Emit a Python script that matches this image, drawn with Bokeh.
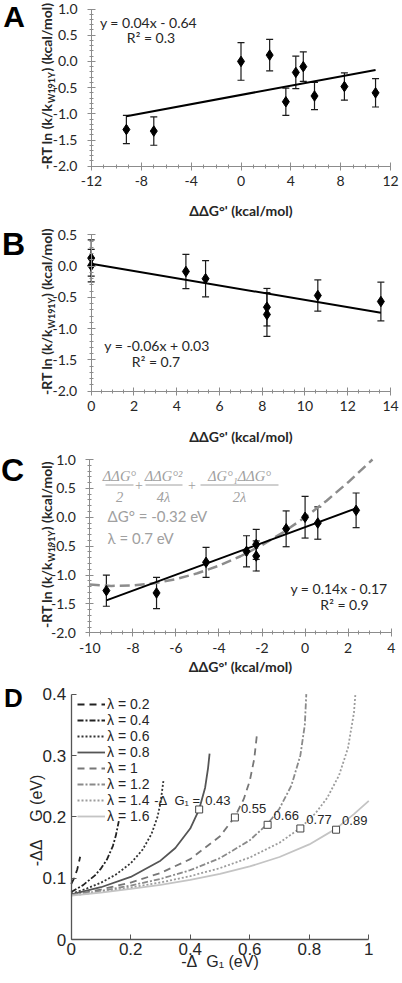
import math
import numpy as np
from bokeh.plotting import figure
from bokeh.layouts import column
from bokeh.models import (ColumnDataSource, Range1d, Label, Whisker, TeeHead,
                          FixedTicker, PrintfTickFormatter, Legend, LegendItem)
from bokeh.core.properties import value
from bokeh.embed import file_html
from bokeh.resources import INLINE

# ---------------- data ----------------
# Panel A
a_x = [-9.2, -7.0, 0.0, 2.3, 3.6, 4.4, 5.0, 5.9, 8.3, 10.8]
a_y = [-1.30, -1.33, 0.0, 0.12, -0.77, -0.21, -0.10, -0.66, -0.48, -0.60]
a_err = [0.27, 0.27, 0.36, 0.30, 0.26, 0.31, 0.28, 0.26, 0.26, 0.27]
a_eq = ["y = 0.04x - 0.64", "R² = 0.3"]
A_XTICKS = [-12, -8, -4, 0, 4, 8, 12]
A_YTICKS = [-2.0, -1.5, -1.0, -0.5, 0.0, 0.5, 1.0]

# Panel B
b_x = [0.0, 0.0, 4.43, 5.35, 8.22, 8.22, 10.6, 13.55]
b_y = [0.13, 0.01, -0.085, -0.20, -0.656, -0.773, -0.469, -0.565]
b_err = [0.29, 0.26, 0.275, 0.29, 0.30, 0.35, 0.25, 0.31]
b_eq = ["y = -0.06x + 0.03", "R² = 0.7"]
B_XTICKS = [0, 2, 4, 6, 8, 10, 12, 14]
B_YTICKS = [-2.0, -1.5, -1.0, -0.5, 0.0, 0.5]

# Panel C
c_x = [-9.23, -6.90, 0.0, 2.37, -4.60, -0.88, 0.59, -2.27, -2.27, -2.72]
c_y = [-1.27, -1.31, 0.0, 0.12, -0.78, -0.20, -0.10, -0.67, -0.47, -0.59]
c_err = [0.27, 0.27, 0.36, 0.30, 0.26, 0.31, 0.28, 0.26, 0.26, 0.27]
c_eq = ["y = 0.14x - 0.17", "R² = 0.9"]
c_model_x = [-10, -9, -8, -7, -6, -5, -4, -3, -2, -1, 0, 1, 2, 3, 3.13]
c_model_y = [-1.166, -1.188, -1.180, -1.141, -1.071, -0.970, -0.838, -0.675,
             -0.481, -0.256, 0.0, 0.287, 0.605, 0.954, 1.0]
c_params = ["ΔG° = -0.32 eV", "λ = 0.7 eV"]
c_num = ["ΔΔG°", "ΔΔG°²", "ΔG°₁ΔΔG°"]
c_den = ["2", "4λ", "2λ"]
C_XTICKS = [-10, -8, -6, -4, -2, 0, 2, 4]
C_YTICKS = [-2.0, -1.5, -1.0, -0.5, 0.0, 0.5, 1.0]

# Panel D
d_labels = ["λ = 0.2", "λ = 0.4", "λ = 0.6", "λ = 0.8", "λ = 1", "λ = 1.2", "λ = 1.4", "λ = 1.6"]
d_x_02 = [0.0, 0.01, 0.02, 0.025, 0.03]
d_y_02 = [0.0905, 0.100, 0.1137, 0.1238, 0.135]
d_x_04 = [0.0, 0.04, 0.08, 0.10, 0.12, 0.14, 0.15, 0.16]
d_y_04 = [0.0775, 0.0887, 0.1046, 0.1156, 0.1303, 0.1523, 0.1694, 0.193]
d_x_06 = [0.0, 0.05, 0.10, 0.15, 0.20, 0.24, 0.27, 0.29, 0.30, 0.31]
d_y_06 = [0.0746, 0.0826, 0.0926, 0.1058, 0.1243, 0.1465, 0.1722, 0.200, 0.2225, 0.259]
d_x_08 = [0.0, 0.1, 0.2, 0.3, 0.35, 0.40, 0.43, 0.45, 0.46, 0.465]
d_y_08 = [0.0734, 0.0852, 0.1020, 0.1285, 0.1492, 0.1809, 0.2122, 0.2475, 0.280, 0.303]
d_x_10 = [0.0, 0.1, 0.2, 0.3, 0.4, 0.5, 0.55, 0.58, 0.60, 0.615, 0.625]
d_y_10 = [0.0726, 0.0815, 0.0929, 0.1084, 0.1310, 0.1683, 0.200, 0.2292, 0.2586, 0.2943, 0.338]
d_x_12 = [0.0, 0.1, 0.2, 0.3, 0.4, 0.5, 0.6, 0.66, 0.70, 0.74, 0.77, 0.785, 0.79]
d_y_12 = [0.0722, 0.0792, 0.0879, 0.0988, 0.1130, 0.1326, 0.1618, 0.1884, 0.2136, 0.2512, 0.300, 0.350, 0.400]
d_x_14 = [0.0, 0.1, 0.2, 0.3, 0.4, 0.5, 0.6, 0.7, 0.77, 0.82, 0.86, 0.90, 0.93, 0.95, 0.955]
d_y_14 = [0.0718, 0.0777, 0.0847, 0.0930, 0.1033, 0.1164, 0.1337, 0.1578, 0.1818, 0.2053,
          0.2308, 0.2676, 0.3122, 0.3694, 0.400]
d_x_16 = [0.0, 0.1, 0.2, 0.3, 0.4, 0.5, 0.6, 0.7, 0.8, 0.89, 0.95, 1.0]
d_y_16 = [0.0716, 0.0766, 0.0824, 0.0892, 0.0973, 0.1070, 0.1191, 0.1345, 0.1550, 0.1808, 0.2045, 0.226]
d_mark_x = [0.43, 0.55, 0.66, 0.77, 0.89]
d_mark_y = [0.212, 0.199, 0.187, 0.181, 0.179]
d_mark_prefix = "-Δ\u00a0\u00a0G₁ ="
d_xlabel = "-Δ\u00a0\u00a0G₁ (eV)"
d_ylabel = "-ΔΔ\u00a0\u00a0\u00a0\u00a0G (eV)"
D_XTICKS = [0, 0.2, 0.4, 0.6, 0.8, 1]
D_XLABELS = ["0", "0.2", "0.4", "0.6", "0.8", "1"]
D_YTICKS = [0, 0.1, 0.2, 0.3, 0.4]
D_YLABELS = ["0", "0.1", "0.2", "0.3", "0.4"]

# ---------------- styling / layout constants ----------------
AX_GRAY = "#8c8c8c"
TXT = "#262626"
FORM_GRAY = "#a0a0a0"
W = 400

# page-pixel calibration of each panel's axes: (xval0, xpx0, xval1, xpx1, yval0, ypx0, yval1, ypx1)
CAL_A = (-12, 91.0, 12, 390.0, -2.0, 165.7, 1.0, 8.5)
CAL_B = (0, 90.7, 14, 390.0, -2.0, 390.7, 0.0, 265.7)
CAL_C = (-10, 89.3, 4, 390.7, -2.0, 632.3, 1.0, 459.0)
CAL_D = (0, 70.7, 1, 368.3, 0.0, 939.0, 0.3, 755.0)
# vertical page extents of the four canvases
PAGE_A = (0, 224)
PAGE_B = (224, 447)
PAGE_C = (447, 681)
PAGE_D = (681, 981)


def ref2data(cal, px, py):
    xv0, xp0, xv1, xp1, yv0, yp0, yv1, yp1 = cal
    x = xv0 + (px - xp0) * (xv1 - xv0) / (xp1 - xp0)
    y = yv0 + (py - yp0) * (yv1 - yv0) / (yp1 - yp0)
    return x, y


def make_fig(cal, page):
    top, bottom = page
    x_start, y_top = ref2data(cal, 0, top)
    x_end, y_bot = ref2data(cal, W, bottom)
    p = figure(width=W, height=bottom - top,
               x_range=Range1d(x_start, x_end), y_range=Range1d(y_bot, y_top),
               output_backend="svg", toolbar_location=None,
               min_border_left=0, min_border_right=0, min_border_top=0, min_border_bottom=0)
    p.outline_line_color = None
    p.xgrid.visible = False
    p.ygrid.visible = False
    p.background_fill_color = "white"
    p.border_fill_color = "white"
    return p


def place_axes(p, xticks, yticks):
    p.xaxis.fixed_location = yticks[0]
    p.xaxis.bounds = (xticks[0], xticks[-1])
    p.yaxis.fixed_location = xticks[0]
    p.yaxis.bounds = (yticks[0], yticks[-1])


def style_excel(p, xticks, xminor_step, yticks, xlabel_standoff):
    place_axes(p, xticks, yticks)
    xminor = [float(v) for v in np.arange(xticks[0], xticks[-1] + 1e-9, xminor_step)]
    yminor = [float(v) for v in np.round(np.arange(yticks[0], yticks[-1] + 1e-9, 0.1), 2)]
    p.xaxis.ticker = FixedTicker(ticks=xticks, minor_ticks=xminor)
    p.yaxis.ticker = FixedTicker(ticks=yticks, minor_ticks=yminor)
    p.xaxis.formatter = PrintfTickFormatter(format="%d")
    p.yaxis.formatter = PrintfTickFormatter(format="%.1f")
    for ax in (p.xaxis[0], p.yaxis[0]):
        ax.axis_line_color = AX_GRAY
        ax.axis_line_width = 1
        ax.major_tick_line_color = AX_GRAY
        ax.minor_tick_line_color = AX_GRAY
        ax.major_tick_in = 4
        ax.major_tick_out = 4
        ax.minor_tick_in = 2
        ax.minor_tick_out = 2
        ax.major_label_text_font = "Lato"
        ax.major_label_text_font_size = "14px"
        ax.major_label_text_color = TXT
    p.yaxis.major_label_standoff = 10
    p.xaxis.major_label_standoff = 6
    p.xaxis.axis_label = "ΔΔG°' (kcal/mol)"
    p.xaxis.axis_label_text_font = "Lato"
    p.xaxis.axis_label_text_font_size = "14px"
    p.xaxis.axis_label_text_font_style = "bold"
    p.xaxis.axis_label_text_color = TXT
    p.xaxis.axis_label_standoff = xlabel_standoff


def y_label(p, cal, yticks):
    xv0, xp0, xv1, xp1, yv0, yp0, yv1, yp1 = cal
    ppu = (yp0 - yp1) / (yv1 - yv0)
    yc = (yticks[0] + yticks[-1]) / 2.0
    main_x, _ = ref2data(cal, 45.5, 0)
    sub_x, _ = ref2data(cal, 50.5, 0)
    common = dict(text_font="Lato", text_font_style="bold", text_color=TXT,
                  angle=math.pi / 2, text_baseline="middle")
    p.add_layout(Label(x=main_x, y=yc - 16 / ppu, text="-RT ln (k/k", text_align="right",
                       text_font_size="14px", **common))
    p.add_layout(Label(x=sub_x, y=yc, text="W191Y", text_align="center",
                       text_font_size="9px", **common))
    p.add_layout(Label(x=main_x, y=yc + 16 / ppu, text=") (kcal/mol)", text_align="left",
                       text_font_size="14px", **common))


def letter(p, cal, px, py, txt, size):
    x, y = ref2data(cal, px, py)
    p.add_layout(Label(x=x, y=y, text=txt, text_font="Liberation Sans", text_font_style="bold",
                       text_font_size=size, text_color="black", text_align="center",
                       text_baseline="middle"))


def plain_label(p, cal, px, py, txt, align="center", font="Lato", size="14px",
                color=TXT, style="normal", angle=0.0):
    x, y = ref2data(cal, px, py)
    p.add_layout(Label(x=x, y=y, text=txt, text_font=font, text_font_size=size,
                       text_color=color, text_align=align, text_baseline="middle",
                       text_font_style=style, angle=angle))


def scatter_panel(p, xs, ys, errs):
    src = ColumnDataSource(dict(x=xs, y=ys,
                                up=[y + e for y, e in zip(ys, errs)],
                                lo=[y - e for y, e in zip(ys, errs)]))
    wh = Whisker(source=src, base="x", upper="up", lower="lo", dimension="height",
                 line_color="#1a1a1a", line_width=1.2,
                 upper_head=TeeHead(size=7, line_color="#1a1a1a", line_width=1.2),
                 lower_head=TeeHead(size=7, line_color="#1a1a1a", line_width=1.2))
    p.add_layout(wh)
    m, b = np.polyfit(xs, ys, 1)
    x0, x1 = min(xs), max(xs)
    p.line([x0, x1], [m * x0 + b, m * x1 + b], line_color="black", line_width=2)
    p.scatter("x", "y", source=src, marker="diamond", size=10.5,
              fill_color="black", line_color="black")


# ---------------- Panel A ----------------
pA = make_fig(CAL_A, PAGE_A)
style_excel(pA, A_XTICKS, 1, A_YTICKS, 12)
scatter_panel(pA, a_x, a_y, a_err)
y_label(pA, CAL_A, A_YTICKS)
letter(pA, CAL_A, 13.5, 15.5, "A", "30px")
plain_label(pA, CAL_A, 148, 22, a_eq[0])
plain_label(pA, CAL_A, 150.5, 37.3, a_eq[1])

# ---------------- Panel B ----------------
pB = make_fig(CAL_B, PAGE_B)
style_excel(pB, B_XTICKS, 0.5, B_YTICKS, 13)
scatter_panel(pB, b_x, b_y, b_err)
y_label(pB, CAL_B, B_YTICKS)
letter(pB, CAL_B, 13, 243.5, "B", "32px")
plain_label(pB, CAL_B, 156.5, 345, b_eq[0])
plain_label(pB, CAL_B, 155.5, 361, b_eq[1])

# ---------------- Panel C ----------------
pC = make_fig(CAL_C, PAGE_C)
style_excel(pC, C_XTICKS, 0.5, C_YTICKS, 2)
pC.line(c_model_x, c_model_y, line_color="#8c8c8c", line_width=2.5, line_dash="10 5")
scatter_panel(pC, c_x, c_y, c_err)
y_label(pC, CAL_C, C_YTICKS)
letter(pC, CAL_C, 12, 469, "C", "32px")
plain_label(pC, CAL_C, 338.5, 587.7, c_eq[0])
plain_label(pC, CAL_C, 344, 604, c_eq[1])
# formula (gray)
num_cx = [119, 163, 239]
bar_l = [105, 145, 200]
bar_r = [133, 182, 278]
for i in range(3):
    plain_label(pC, CAL_C, num_cx[i], 475, c_num[i], font="Liberation Serif",
                size="14.5px", color=FORM_GRAY, style="italic")
    plain_label(pC, CAL_C, num_cx[i], 496, c_den[i], font="Liberation Serif",
                size="14.5px", color=FORM_GRAY, style="italic")
bx0 = [ref2data(CAL_C, v, 484.5)[0] for v in bar_l]
bx1 = [ref2data(CAL_C, v, 484.5)[0] for v in bar_r]
by = [ref2data(CAL_C, 0, 484.5)[1]] * 3
pC.segment(bx0, by, bx1, by, line_color=FORM_GRAY, line_width=1)
plain_label(pC, CAL_C, 138.5, 484, "+", font="Liberation Serif", size="14px", color=FORM_GRAY)
plain_label(pC, CAL_C, 191.5, 484, "+", font="Liberation Serif", size="14px", color=FORM_GRAY)
plain_label(pC, CAL_C, 107, 515.7, c_params[0], align="left", size="15px", color=FORM_GRAY)
plain_label(pC, CAL_C, 107, 537.7, c_params[1], align="left", size="15px", color=FORM_GRAY)

# ---------------- Panel D ----------------
pD = make_fig(CAL_D, PAGE_D)
place_axes(pD, D_XTICKS, D_YTICKS)
pD.xaxis.ticker = FixedTicker(ticks=D_XTICKS)
pD.yaxis.ticker = FixedTicker(ticks=D_YTICKS)
pD.xaxis.formatter = PrintfTickFormatter(format="%g")
pD.yaxis.formatter = PrintfTickFormatter(format="%g")
pD.xaxis.major_label_overrides = dict(zip(D_XTICKS, D_XLABELS))
pD.yaxis.major_label_overrides = dict(zip(D_YTICKS, D_YLABELS))
for ax in (pD.xaxis[0], pD.yaxis[0]):
    ax.axis_line_color = "#555555"
    ax.axis_line_width = 1.3
    ax.major_tick_line_color = "#555555"
    ax.major_tick_in = 5
    ax.major_tick_out = 0
    ax.minor_tick_line_color = None
    ax.major_label_text_font = "Liberation Sans"
    ax.major_label_text_font_size = "17px"
    ax.major_label_text_color = TXT
pD.xaxis.major_label_standoff = 3
pD.yaxis.major_label_standoff = 5
pD.xaxis.axis_label = d_xlabel
pD.xaxis.axis_label_text_font = "Liberation Sans"
pD.xaxis.axis_label_text_font_size = "16px"
pD.xaxis.axis_label_text_font_style = "normal"
pD.xaxis.axis_label_text_color = TXT
pD.xaxis.axis_label_standoff = -5
plain_label(pD, CAL_D, 36, 820, d_ylabel, font="Liberation Sans", size="16px",
            angle=math.pi / 2)

d_series = [
    (d_x_02, d_y_02, "#222222", "7 5"),
    (d_x_04, d_y_04, "#222222", "6 2 2 2"),
    (d_x_06, d_y_06, "#333333", "2 2"),
    (d_x_08, d_y_08, "#555555", "solid"),
    (d_x_10, d_y_10, "#777777", "7 5"),
    (d_x_12, d_y_12, "#8a8a8a", "6 2 2 2"),
    (d_x_14, d_y_14, "#9c9c9c", "2 2"),
    (d_x_16, d_y_16, "#c4c4c4", "solid"),
]
items = []
for (xs, ys, col, dash), lab in zip(d_series, d_labels):
    r = pD.line(xs, ys, line_color=col, line_width=1.8, line_dash=dash)
    items.append(LegendItem(label=lab, renderers=[r]))
legend = Legend(items=items, location=(77, 157), border_line_color=None,
                background_fill_alpha=0, padding=0, margin=0, spacing=-10,
                glyph_width=28, glyph_height=12, label_height=12, label_standoff=2,
                label_text_font="Liberation Sans", label_text_font_size="14px",
                label_text_color=TXT)
pD.add_layout(legend)

pD.scatter(d_mark_x, d_mark_y, marker="square", size=7, fill_color="white",
           line_color="#444444", line_width=1)
pD.text(d_mark_x, d_mark_y, text=[f"{v:.2f}" for v in d_mark_x], x_offset=6, y_offset=-9,
        text_font=value("Liberation Sans"), text_font_size=value("13px"),
        text_color=TXT, text_align="left", text_baseline="middle")
pD.text([d_mark_x[0]], [d_mark_y[0]], text=[d_mark_prefix], x_offset=1, y_offset=-9,
        text_font=value("Liberation Sans"), text_font_size=value("13px"),
        text_color=TXT, text_align="right", text_baseline="middle")
letter(pD, CAL_D, 13, 697.5, "D", "26px")

layout = column(pA, pB, pC, pD, spacing=0)
open("out.html", "w").write(file_html(layout, INLINE, "Figure"))
